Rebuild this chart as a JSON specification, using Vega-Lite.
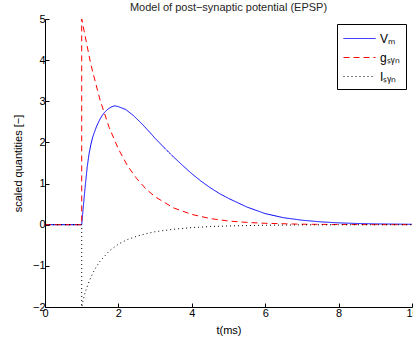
{
  "$schema": "https://vega.github.io/schema/vega-lite/v6.json",
  "width": 367,
  "height": 288,
  "autosize": "none",
  "padding": {"left": 45, "top": 19, "right": 1, "bottom": 36},
  "background": "white",
  "title": {"text": "Model of post−synaptic potential (EPSP)", "fontSize": 11, "font": "Liberation Sans", "fontWeight": "normal", "color": "#262626", "baseline": "bottom", "offset": 6, "anchor": "middle", "frame": "group", "dy": 17},
  "config": {
    "view": {"stroke": null},
    "axis": {"domainColor": "black", "tickColor": "black", "tickSize": -4, "labelFont": "Liberation Sans", "labelFontSize": 11, "labelColor": "black", "titleFont": "Liberation Sans", "titleFontSize": 11, "titleFontWeight": "normal", "titleColor": "black", "grid": false, "domainWidth": 1, "tickWidth": 1, "labelPadding": 4},
    "legend": {"orient": "none", "legendX": 292, "legendY": 5, "strokeColor": "black", "fillColor": "white", "padding": 6, "symbolType": "M-1,0H3", "symbolSize": 256, "symbolStrokeWidth": 1, "labelFont": "Liberation Sans", "labelFontSize": 12, "labelColor": "black", "rowPadding": 4, "labelOffset": 20, "title": null}
  },
  "data": {"values": [
    {"s": "Vₘ", "k": 0, "t": 0, "v": 0},
    {"s": "Vₘ", "k": 1, "t": 1, "v": 0},
    {"s": "Vₘ", "k": 2, "t": 1.05, "v": 0.5},
    {"s": "Vₘ", "k": 3, "t": 1.1, "v": 0.97},
    {"s": "Vₘ", "k": 4, "t": 1.15, "v": 1.4},
    {"s": "Vₘ", "k": 5, "t": 1.2, "v": 1.72},
    {"s": "Vₘ", "k": 6, "t": 1.25, "v": 1.95},
    {"s": "Vₘ", "k": 7, "t": 1.3, "v": 2.13},
    {"s": "Vₘ", "k": 8, "t": 1.4, "v": 2.38},
    {"s": "Vₘ", "k": 9, "t": 1.5, "v": 2.57},
    {"s": "Vₘ", "k": 10, "t": 1.6, "v": 2.71},
    {"s": "Vₘ", "k": 11, "t": 1.7, "v": 2.8},
    {"s": "Vₘ", "k": 12, "t": 1.8, "v": 2.86},
    {"s": "Vₘ", "k": 13, "t": 1.9, "v": 2.89},
    {"s": "Vₘ", "k": 14, "t": 2.0, "v": 2.87},
    {"s": "Vₘ", "k": 15, "t": 2.2, "v": 2.8},
    {"s": "Vₘ", "k": 16, "t": 2.4, "v": 2.66},
    {"s": "Vₘ", "k": 17, "t": 2.6, "v": 2.49},
    {"s": "Vₘ", "k": 18, "t": 2.8, "v": 2.3},
    {"s": "Vₘ", "k": 19, "t": 3.0, "v": 2.1},
    {"s": "Vₘ", "k": 20, "t": 3.25, "v": 1.87},
    {"s": "Vₘ", "k": 21, "t": 3.5, "v": 1.65},
    {"s": "Vₘ", "k": 22, "t": 3.75, "v": 1.44},
    {"s": "Vₘ", "k": 23, "t": 4.0, "v": 1.24},
    {"s": "Vₘ", "k": 24, "t": 4.25, "v": 1.06},
    {"s": "Vₘ", "k": 25, "t": 4.5, "v": 0.9},
    {"s": "Vₘ", "k": 26, "t": 4.75, "v": 0.76},
    {"s": "Vₘ", "k": 27, "t": 5.0, "v": 0.64},
    {"s": "Vₘ", "k": 28, "t": 5.5, "v": 0.43},
    {"s": "Vₘ", "k": 29, "t": 6.0, "v": 0.27},
    {"s": "Vₘ", "k": 30, "t": 6.5, "v": 0.17},
    {"s": "Vₘ", "k": 31, "t": 7.0, "v": 0.11},
    {"s": "Vₘ", "k": 32, "t": 7.5, "v": 0.07},
    {"s": "Vₘ", "k": 33, "t": 8.0, "v": 0.045},
    {"s": "Vₘ", "k": 34, "t": 8.5, "v": 0.03},
    {"s": "Vₘ", "k": 35, "t": 9.0, "v": 0.02},
    {"s": "Vₘ", "k": 36, "t": 9.5, "v": 0.015},
    {"s": "Vₘ", "k": 37, "t": 10.0, "v": 0.01},
    {"s": "gₛᵧₙ", "k": 0, "t": 0, "v": 0},
    {"s": "gₛᵧₙ", "k": 1, "t": 1, "v": 0},
    {"s": "gₛᵧₙ", "k": 2, "t": 1, "v": 5},
    {"s": "gₛᵧₙ", "k": 3, "t": 1.25, "v": 3.89},
    {"s": "gₛᵧₙ", "k": 4, "t": 1.5, "v": 3.03},
    {"s": "gₛᵧₙ", "k": 5, "t": 1.75, "v": 2.36},
    {"s": "gₛᵧₙ", "k": 6, "t": 2.0, "v": 1.84},
    {"s": "gₛᵧₙ", "k": 7, "t": 2.25, "v": 1.43},
    {"s": "gₛᵧₙ", "k": 8, "t": 2.5, "v": 1.12},
    {"s": "gₛᵧₙ", "k": 9, "t": 2.75, "v": 0.87},
    {"s": "gₛᵧₙ", "k": 10, "t": 3.0, "v": 0.68},
    {"s": "gₛᵧₙ", "k": 11, "t": 3.5, "v": 0.41},
    {"s": "gₛᵧₙ", "k": 12, "t": 4.0, "v": 0.25},
    {"s": "gₛᵧₙ", "k": 13, "t": 4.5, "v": 0.15},
    {"s": "gₛᵧₙ", "k": 14, "t": 5.0, "v": 0.09},
    {"s": "gₛᵧₙ", "k": 15, "t": 5.5, "v": 0.056},
    {"s": "gₛᵧₙ", "k": 16, "t": 6.0, "v": 0.034},
    {"s": "gₛᵧₙ", "k": 17, "t": 7.0, "v": 0.012},
    {"s": "gₛᵧₙ", "k": 18, "t": 8.0, "v": 0.005},
    {"s": "gₛᵧₙ", "k": 19, "t": 9.0, "v": 0.002},
    {"s": "gₛᵧₙ", "k": 20, "t": 10.0, "v": 0.001},
    {"s": "Iₛᵧₙ", "k": 0, "t": 0, "v": 0},
    {"s": "Iₛᵧₙ", "k": 1, "t": 1, "v": 0},
    {"s": "Iₛᵧₙ", "k": 2, "t": 1, "v": -2},
    {"s": "Iₛᵧₙ", "k": 3, "t": 1.05, "v": -1.8},
    {"s": "Iₛᵧₙ", "k": 4, "t": 1.1, "v": -1.63},
    {"s": "Iₛᵧₙ", "k": 5, "t": 1.2, "v": -1.38},
    {"s": "Iₛᵧₙ", "k": 6, "t": 1.3, "v": -1.18},
    {"s": "Iₛᵧₙ", "k": 7, "t": 1.4, "v": -1.02},
    {"s": "Iₛᵧₙ", "k": 8, "t": 1.5, "v": -0.89},
    {"s": "Iₛᵧₙ", "k": 9, "t": 1.75, "v": -0.64},
    {"s": "Iₛᵧₙ", "k": 10, "t": 2.0, "v": -0.47},
    {"s": "Iₛᵧₙ", "k": 11, "t": 2.25, "v": -0.36},
    {"s": "Iₛᵧₙ", "k": 12, "t": 2.5, "v": -0.28},
    {"s": "Iₛᵧₙ", "k": 13, "t": 2.75, "v": -0.22},
    {"s": "Iₛᵧₙ", "k": 14, "t": 3.0, "v": -0.17},
    {"s": "Iₛᵧₙ", "k": 15, "t": 3.5, "v": -0.11},
    {"s": "Iₛᵧₙ", "k": 16, "t": 4.0, "v": -0.07},
    {"s": "Iₛᵧₙ", "k": 17, "t": 4.5, "v": -0.045},
    {"s": "Iₛᵧₙ", "k": 18, "t": 5.0, "v": -0.03},
    {"s": "Iₛᵧₙ", "k": 19, "t": 6.0, "v": -0.012},
    {"s": "Iₛᵧₙ", "k": 20, "t": 7.0, "v": -0.005},
    {"s": "Iₛᵧₙ", "k": 21, "t": 8.0, "v": -0.002},
    {"s": "Iₛᵧₙ", "k": 22, "t": 10.0, "v": 0}
  ]},
  "mark": {"type": "line", "strokeWidth": 1, "clip": false},
  "encoding": {
    "x": {"field": "t", "type": "quantitative", "scale": {"domain": [0, 10], "nice": false, "zero": false}, "axis": {"title": "t(ms)", "values": [0, 2, 4, 6, 8, 10], "labelFlush": false, "titlePadding": 6}},
    "y": {"field": "v", "type": "quantitative", "scale": {"domain": [-2, 5], "nice": false, "zero": false}, "axis": {"title": "scaled quantities [−]", "values": [-2, -1, 0, 1, 2, 3, 4, 5], "titlePadding": 9}},
    "color": {"field": "s", "type": "nominal", "scale": {"domain": ["Vₘ", "gₛᵧₙ", "Iₛᵧₙ"], "range": ["#0000ff", "#ff0000", "#000000"]}, "legend": {"encode": {"symbols": {"update": {"stroke": {"scale": "color", "field": "value"}, "fill": {"value": "transparent"}}}}}},
    "strokeDash": {"field": "s", "type": "nominal", "scale": {"domain": ["Vₘ", "gₛᵧₙ", "Iₛᵧₙ"], "range": [[1, 0], [6, 4], [1, 3]]}},
    "order": {"field": "k"}
  }
}
